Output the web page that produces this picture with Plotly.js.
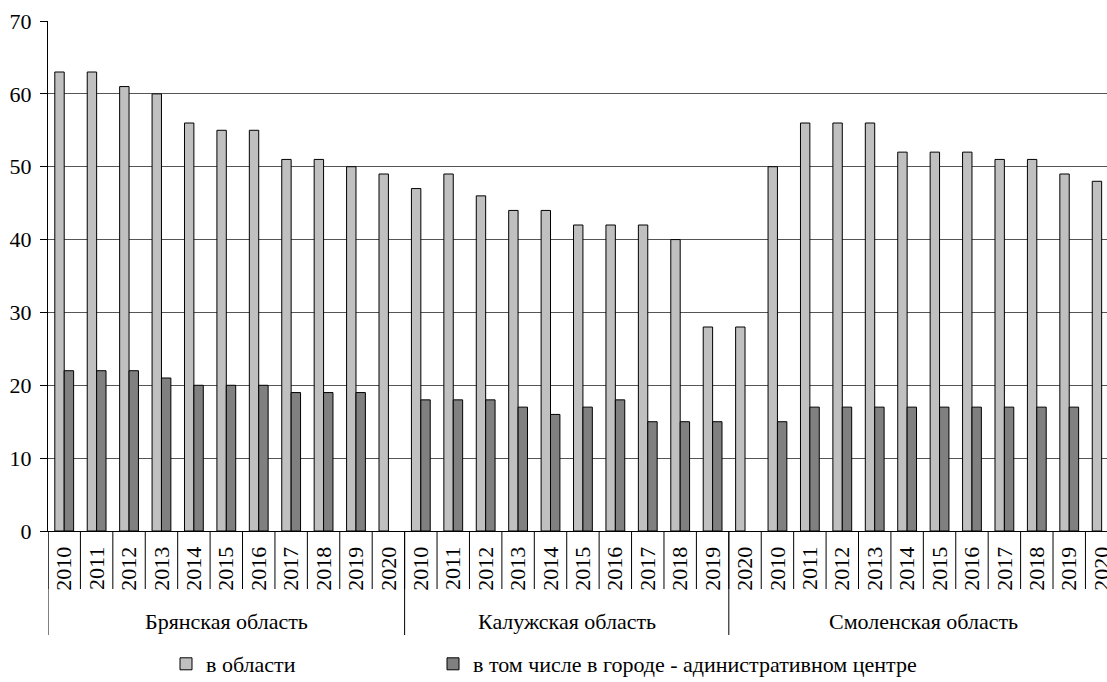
<!DOCTYPE html>
<html>
<head>
<meta charset="utf-8">
<script src="https://cdn.plot.ly/plotly-3.0.1.min.js"></script>
<style>
  html, body { margin: 0; padding: 0; background: #ffffff; overflow: hidden; }
  #chart { width: 1107px; height: 700px; }
</style>
</head>
<body>
<div id="chart"></div>
<script>
// ---- Data ----
var groupNames = ['Брянская область', 'Калужская область', 'Смоленская область'];
var groupSizes = [11, 10, 12];
var yearLabels = [
  '2010','2011','2012','2013','2014','2015','2016','2017','2018','2019','2020',
  '2010','2011','2012','2013','2014','2015','2016','2017','2018','2019',
  '2020','2010','2011','2012','2013','2014','2015','2016','2017','2018','2019','2020'
];
var seriesNames = ['в области', 'в том числе в городе - адинистративном центре'];
var inRegion = [
  63, 63, 61, 60, 56, 55, 55, 51, 51, 50, 49,
  47, 49, 46, 44, 44, 42, 42, 42, 40, 28,
  28, 50, 56, 56, 56, 52, 52, 52, 51, 51, 49, 48
];
var inCenter = [
  22, 22, 22, 21, 20, 20, 20, 19, 19, 19, null,
  18, 18, 18, 17, 16, 17, 18, 15, 15, 15,
  null, 15, 17, 17, 17, 17, 17, 17, 17, 17, 17, null
];

// ---- Build ----
var idx = yearLabels.map(function (_, i) { return i; });
var FONT = 'Liberation Serif';
var FS = 22;

var traces = [
  { type: 'bar', name: seriesNames[0], x: idx, y: inRegion, legend: 'legend',
    marker: { color: '#c0c0c0', line: { color: '#000000', width: 1 } }, hoverinfo: 'y' },
  { type: 'bar', name: seriesNames[1], x: idx, y: inCenter, legend: 'legend2',
    marker: { color: '#808080', line: { color: '#000000', width: 1 } }, hoverinfo: 'y' }
];

// the drawing is a bit taller than the 682px window so the legend is not clipped
var plotTop = 21, plotBottom = 531, H = 700, plotLeft = 48, W = 1107;
var plotH = plotBottom - plotTop;
var plotW = W - plotLeft;
function py(pix) { return (plotBottom - pix) / plotH; }
function px(pix) { return (pix - plotLeft) / plotW; }

var shapes = [];
var annotations = [];
// year boundaries
for (var i = 0; i <= yearLabels.length; i++) {
  shapes.push({ type: 'line', xref: 'x', yref: 'paper', x0: i - 0.5, x1: i - 0.5,
    y0: 0, y1: py(589), line: { color: '#000000', width: 1 } });
}
// group dividers + labels
var start = 0;
for (var g = 0; g < groupNames.length; g++) {
  shapes.push({ type: 'line', xref: 'x', yref: 'paper', x0: start - 0.5, x1: start - 0.5,
    y0: 0, y1: py(635), line: { color: '#000000', width: 1 } });
  annotations.push({ xref: 'x', yref: 'paper', x: start + (groupSizes[g] - 1) / 2, y: py(621),
    text: groupNames[g], showarrow: false, xanchor: 'center', yanchor: 'middle',
    font: { family: FONT, size: FS, color: '#000000' } });
  start += groupSizes[g];
}
shapes.push({ type: 'line', xref: 'x', yref: 'paper', x0: start - 0.5, x1: start - 0.5,
  y0: 0, y1: py(635), line: { color: '#000000', width: 1 } });

var legendFont = { family: FONT, size: FS, color: '#000000' };
var catW = 32.42;
var legendY = py(664);
var layout = {
  width: W, height: H,
  margin: { l: plotLeft, r: 0, t: plotTop, b: H - plotBottom, pad: 0, autoexpand: false },
  paper_bgcolor: '#ffffff', plot_bgcolor: '#ffffff',
  font: { family: FONT, size: FS, color: '#000000' },
  barmode: 'group', bargap: 0.42, bargroupgap: 0,
  showlegend: true,
  legend: { orientation: 'h', x: px(166), xanchor: 'left', y: legendY, yanchor: 'middle',
    font: legendFont, itemwidth: 30, bgcolor: 'rgba(0,0,0,0)' },
  legend2: { orientation: 'h', x: px(433), xanchor: 'left', y: legendY, yanchor: 'middle',
    font: legendFont, itemwidth: 30, bgcolor: 'rgba(0,0,0,0)' },
  xaxis: {
    type: 'linear', range: [-0.5, -0.5 + plotW / catW], fixedrange: true,
    tickmode: 'array', tickvals: idx, ticktext: yearLabels, tickangle: -90,
    ticks: '', showgrid: false, zeroline: false,
    showline: true, linecolor: '#000000', linewidth: 1,
    ticklabelstandoff: 6, ticklabeloverflow: 'allow',
    tickfont: { family: FONT, size: FS, color: '#000000' }
  },
  yaxis: {
    range: [0, 70], dtick: 10, tick0: 0, fixedrange: true,
    showgrid: true, gridcolor: '#555555', gridwidth: 1,
    zeroline: false, showline: true, linecolor: '#000000', linewidth: 1,
    ticks: 'outside', ticklen: 7, tickcolor: '#000000', tickwidth: 1,
    ticklabelstandoff: 4,
    tickfont: { family: FONT, size: FS, color: '#000000' }
  },
  shapes: shapes,
  annotations: annotations
};

Plotly.newPlot('chart', traces, layout, { displayModeBar: false, staticPlot: true });
</script>
</body>
</html>
